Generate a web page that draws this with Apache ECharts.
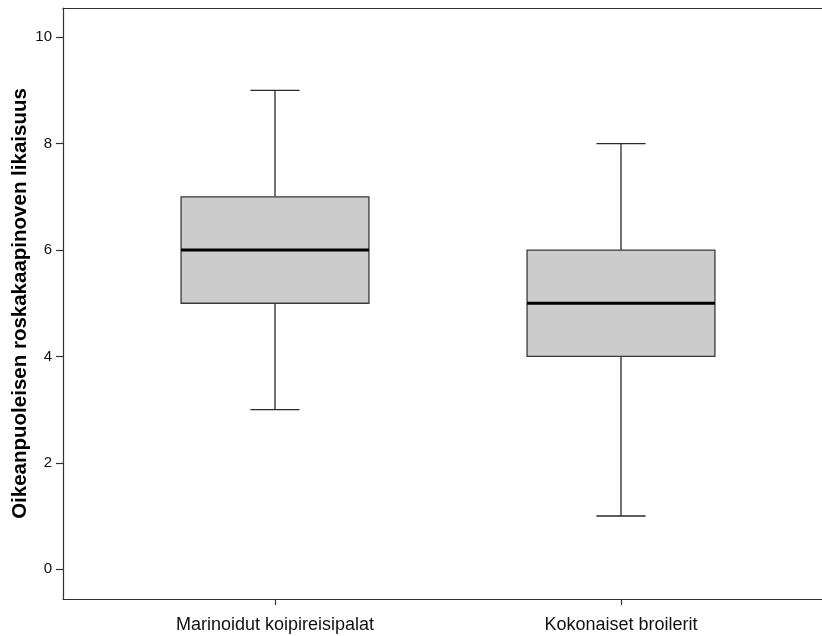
<!DOCTYPE html>
<html>
<head>
<meta charset="utf-8">
<script src="https://cdn.jsdelivr.net/npm/echarts@6/dist/echarts.min.js"></script>
<style>html,body{margin:0;padding:0;background:#fff}#c{width:822px;height:636px}</style>
</head>
<body>
<div id="c"></div>
<script>
const categories = ['Marinoidut koipireisipalat', 'Kokonaiset broilerit'];
// [min, Q1, median, Q3, max]
const boxStats = [
  [3, 5, 6, 7, 9],
  [1, 4, 5, 6, 8]
];
const yTicks = [0, 2, 4, 6, 8, 10];
const yTitle = 'Oikeanpuoleisen roskakaapinoven likaisuus';

const Y_MIN = -0.56, Y_MAX = 10.55;
const FONT = '"Liberation Sans", Arial, sans-serif';
const chart = echarts.init(document.getElementById('c'), null, {renderer: 'canvas'});

const seriesData = boxStats.map((s, i) => [i].concat(s));

chart.setOption({
  animation: false,
  backgroundColor: '#fff',
  grid: [
    {left: 63, top: 8, right: 0, bottom: 37, containLabel: false, outerBoundsMode: 'none'},
    {left: 102, top: 8, right: 28, bottom: 37, containLabel: false, outerBoundsMode: 'none'}
  ],
  xAxis: [
    {gridIndex: 0, type: 'value', min: 0, max: 1, position: 'bottom',
     axisLine: {show: true, onZero: false, lineStyle: {color: '#333', width: 1.2}},
     axisTick: {show: false}, axisLabel: {show: false}, splitLine: {show: false}},
    {gridIndex: 0, type: 'value', min: 0, max: 1, position: 'top',
     axisLine: {show: true, onZero: false, lineStyle: {color: '#333', width: 1.2}},
     axisTick: {show: false}, axisLabel: {show: false}, splitLine: {show: false}},
    {gridIndex: 1, type: 'category', data: categories, boundaryGap: true, position: 'bottom',
     axisLine: {show: false, onZero: false},
     axisTick: {show: true, alignWithLabel: true, length: 6, lineStyle: {color: '#333', width: 1.2}},
     axisLabel: {color: '#111', fontSize: 18, fontFamily: FONT, margin: 17},
     splitLine: {show: false}}
  ],
  yAxis: [
    {gridIndex: 0, type: 'value', min: Y_MIN, max: Y_MAX,
     axisLine: {show: true, onZero: false, lineStyle: {color: '#333', width: 1.2}},
     axisTick: {show: true, length: 7, customValues: yTicks, lineStyle: {color: '#333', width: 1.2}},
     axisLabel: {customValues: yTicks, color: '#111', fontSize: 15, fontFamily: FONT, margin: 11},
     splitLine: {show: false},
     name: yTitle, nameLocation: 'middle', nameRotate: 90, nameGap: 32, nameMoveOverlap: false,
     nameTextStyle: {fontSize: 20.5, fontWeight: 'bold', fontFamily: FONT, color: '#000'}},
    {gridIndex: 1, type: 'value', min: Y_MIN, max: Y_MAX, show: false}
  ],
  series: [{
    type: 'custom',
    xAxisIndex: 2,
    yAxisIndex: 1,
    data: seriesData,
    encode: {x: 0, y: [1, 2, 3, 4, 5]},
    renderItem: function (params, api) {
      const idx = api.value(0);
      const band = api.size([1, 0])[0];
      const boxW = band * 0.543;
      const capW = band * 0.142;
      const pMin = api.coord([idx, api.value(1)]);
      const pQ1 = api.coord([idx, api.value(2)]);
      const pMed = api.coord([idx, api.value(3)]);
      const pQ3 = api.coord([idx, api.value(4)]);
      const pMax = api.coord([idx, api.value(5)]);
      const cx = pMed[0];
      const lineStyle = {stroke: '#2a2a2a', lineWidth: 1.3, fill: null};
      return {
        type: 'group',
        children: [
          {type: 'line', shape: {x1: cx, y1: pQ3[1], x2: cx, y2: pMax[1]}, style: lineStyle},
          {type: 'line', shape: {x1: cx, y1: pQ1[1], x2: cx, y2: pMin[1]}, style: lineStyle},
          {type: 'line', shape: {x1: cx - capW / 2, y1: pMax[1], x2: cx + capW / 2, y2: pMax[1]}, style: lineStyle},
          {type: 'line', shape: {x1: cx - capW / 2, y1: pMin[1], x2: cx + capW / 2, y2: pMin[1]}, style: lineStyle},
          {type: 'rect', shape: {x: cx - boxW / 2, y: pQ3[1], width: boxW, height: pQ1[1] - pQ3[1]},
           style: {fill: '#cccccc', stroke: '#3a3a3a', lineWidth: 1.3}},
          {type: 'line', shape: {x1: cx - boxW / 2, y1: pMed[1], x2: cx + boxW / 2, y2: pMed[1]},
           style: {stroke: '#000', lineWidth: 3}}
        ]
      };
    }
  }]
});
</script>
</body>
</html>
